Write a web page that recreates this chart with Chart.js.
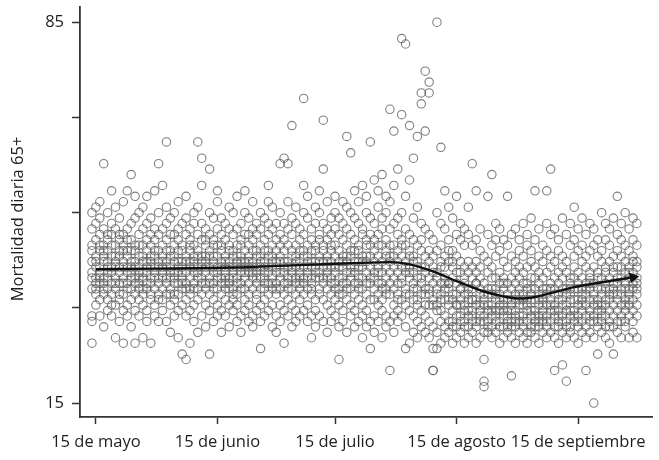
<!DOCTYPE html>
<html>
<head>
<meta charset="utf-8">
<script src="https://cdn.jsdelivr.net/npm/chart.js@4/dist/chart.umd.min.js"></script>
<style>
  body { margin: 0; background: #fff; }
  #wrap { width: 659px; height: 460px; }
</style>
</head>
<body>
<div id="wrap"><canvas id="mortalityChart" width="659" height="460"></canvas></div>
<script>
// daily deaths 65+, one string per day, several summers stacked on the same date
const mayo = [ // 14-31 May
  "26 30 31 36 39 41 44 47 50 38 43",
  "33 35 38 40 42 45 48 51 37 41 36",
  "31 34 37 39 40 43 46 49 52 44 38",
  "59 29 35 38 41 42 44 47 36 37 43",
  "32 36 38 40 41 43 45 50 34 39 46",
  "54 31 33 37 39 42 46 48 40 44 35",
  "27 33 36 38 40 41 44 47 51 42 37",
  "30 34 37 39 42 43 45 49 35 40 46",
  "26 32 35 38 40 41 44 46 52 37 43",
  "54 31 36 37 39 42 43 47 33 40 45",
  "57 29 34 36 40 41 45 48 38 43 39",
  "26 53 32 35 38 40 43 44 49 37 41",
  "31 34 36 39 40 42 46 50 37 44 38",
  "27 33 35 38 41 42 44 47 51 39 36",
  "30 32 36 39 40 43 45 48 53 37 41",
  "26 34 37 38 40 41 44 49 35 42 46",
  "54 31 33 36 39 42 45 47 40 38 43",
  "59 30 35 37 40 41 43 46 50 38 34"
];
const junio = [
  "32 34 38 39 42 44 47 55 36 41 40",
  "63 30 35 37 40 41 45 48 51 38 43",
  "28 33 36 39 40 43 46 49 38 42 35",
  "31 34 37 38 41 42 44 50 35 39 46",
  "27 32 35 39 40 43 45 47 52 37 41",
  "24 33 36 38 40 41 44 48 37 43 39",
  "53 23 31 34 37 39 42 46 49 41 36",
  "26 32 35 38 40 43 45 47 36 41 44",
  "30 33 37 39 41 42 44 50 48 36 40",
  "28 63 34 36 39 40 43 46 51 38 42",
  "60 55 31 35 38 41 42 45 48 37 40",
  "29 33 36 37 40 42 44 47 39 41 45",
  "24 58 32 35 38 40 43 46 50 37 42",
  "30 34 37 39 41 42 45 49 36 40 44",
  "54 31 33 36 38 40 44 47 52 39 42",
  "28 32 35 38 40 41 43 46 49 37 44",
  "31 34 36 39 40 42 45 48 37 41 38",
  "29 33 37 38 41 43 44 47 51 36 40",
  "32 35 36 39 40 42 46 50 34 38 43",
  "30 33 35 38 40 41 44 47 53 37 42",
  "28 31 36 37 39 42 45 48 40 41 44",
  "54 32 34 38 40 41 43 46 50 36 39",
  "30 33 35 39 40 42 44 49 37 41 46",
  "29 31 36 38 41 43 45 47 52 39 40",
  "32 34 37 39 40 42 46 48 35 43 38",
  "25 30 33 38 40 41 44 47 50 36 42",
  "31 34 36 39 41 43 45 49 38 40 37",
  "55 52 32 35 37 40 42 46 48 39 43",
  "29 33 36 38 40 41 44 47 51 37 42",
  "28 31 35 39 40 43 45 48 37 41 36"
];
const julio = [
  "59 30 33 36 38 41 42 46 50 39 44",
  "26 60 32 35 39 40 43 45 48 37 41",
  "59 31 34 37 38 41 44 47 52 40 36",
  "66 29 33 36 39 40 42 46 49 38 43",
  "30 32 35 38 40 41 44 48 51 37 42",
  "31 34 37 39 41 43 45 47 36 40 38",
  "71 55 32 35 38 40 42 46 50 37 43",
  "30 33 36 39 41 42 44 49 53 38 40",
  "27 31 35 37 40 41 45 47 38 43 36",
  "29 32 34 38 40 43 44 48 51 39 41",
  "54 31 35 36 39 42 45 46 50 38 41",
  "67 58 30 34 38 40 41 44 48 37 43",
  "28 33 36 39 40 42 45 47 52 38 41",
  "30 32 35 38 41 43 46 49 37 40 44",
  "53 31 34 37 39 40 44 47 50 42 36",
  "23 29 33 36 40 41 43 46 49 38 35",
  "30 32 35 38 40 42 45 48 52 37 41",
  "64 28 34 37 39 41 44 47 51 36 42",
  "61 31 33 36 38 42 43 46 50 40 39",
  "29 32 35 39 40 41 45 49 54 37 43",
  "30 34 37 38 41 43 44 48 52 36 40",
  "27 31 33 36 40 42 46 47 55 38 41",
  "29 32 35 39 41 44 45 50 53 37 42",
  "25 63 30 34 37 40 42 46 49 38 44",
  "28 31 36 38 41 43 45 48 56 34 39",
  "30 33 35 39 40 42 46 51 54 37 44",
  "27 32 34 37 41 44 47 49 57 39 36",
  "29 31 36 38 40 43 45 50 53 35 42",
  "21 69 30 35 39 41 42 47 52 37 44",
  "65 28 33 36 38 40 44 48 55 42 31",
  "30 32 35 39 41 43 46 49 58 37 34"
];
const agosto = [
  "82 68 31 34 37 40 42 45 50 38 44",
  "81 25 29 33 36 39 41 44 47 53 40 35",
  "66 26 32 35 38 40 43 46 56 39 42",
  "28 31 34 37 39 42 45 49 60 36 41",
  "64 27 30 34 36 38 41 44 51 40 33",
  "72 70 29 32 35 38 40 43 48 37 45",
  "76 65 28 31 35 36 39 42 47 40 33",
  "74 72 27 30 33 36 38 41 46 43 35",
  "21 21 25 29 33 34 37 40 45 39 42",
  "85 25 28 32 33 36 39 43 50 38 35",
  "62 26 30 32 35 37 40 44 48 34 41",
  "54 27 29 31 34 37 38 42 47 40 36",
  "28 30 33 34 37 37 41 45 51 36 43",
  "26 29 32 34 35 38 40 43 49 30 41",
  "53 27 31 33 33 37 39 42 46 35 29",
  "48 28 30 31 34 36 36 41 45 39 33",
  "26 30 32 33 35 38 40 44 47 37 29",
  "51 27 29 32 35 36 39 41 46 31 34",
  "59 28 30 31 34 34 38 40 44 36 32",
  "54 26 29 33 34 37 37 41 45 30 39",
  "27 30 31 33 36 38 40 43 47 32 35",
  "18 19 23 28 31 34 35 37 42 30 33",
  "53 29 30 32 35 36 39 41 46 33 28",
  "57 27 29 31 33 35 38 40 44 32 36",
  "28 31 32 34 36 38 42 45 48 30 35",
  "26 29 30 33 35 37 39 43 47 32 34",
  "27 29 32 33 34 36 38 41 45 31 37",
  "53 28 30 31 34 35 37 40 44 32 29",
  "20 27 30 32 33 36 38 42 46 29 34",
  "26 29 31 32 35 37 39 41 47 34 30",
  "28 30 33 34 36 38 40 43 45 31 35"
];
const septiembre = [
  "27 29 31 33 35 37 39 42 48 30 34",
  "26 30 32 34 36 37 40 44 46 28 33",
  "28 29 31 32 35 38 41 43 49 34 36",
  "54 27 30 32 34 36 38 40 45 31 29",
  "26 29 31 33 35 37 39 42 47 30 34",
  "28 30 32 34 35 36 38 41 44 31 33",
  "54 27 29 31 33 36 39 43 48 35 30",
  "58 28 30 32 34 37 40 42 46 33 36",
  "21 27 31 33 35 36 38 41 47 29 32",
  "26 29 30 32 34 37 39 43 45 35 31",
  "22 28 31 33 34 38 40 42 49 30 36",
  "19 27 30 32 35 36 39 41 46 33 29",
  "28 29 31 34 35 37 38 44 48 32 36",
  "51 27 30 32 34 36 40 42 45 31 38",
  "26 29 31 33 36 37 39 43 47 30 34",
  "28 30 32 34 35 38 41 44 49 36 33",
  "21 27 31 33 36 37 40 42 46 29 35",
  "28 30 32 34 36 38 39 43 48 31 37",
  "15 27 31 33 35 37 40 44 47 34 30",
  "24 29 30 32 34 36 39 42 45 38 33",
  "28 30 32 33 35 38 41 43 50 36 31",
  "27 29 31 34 36 37 40 45 48 33 39",
  "26 30 32 35 36 38 41 44 47 34 29",
  "24 29 31 33 35 37 39 42 49 36 40",
  "53 28 30 32 34 37 40 43 46 35 38",
  "27 31 33 35 36 38 42 45 48 30 40",
  "29 30 32 34 37 39 41 44 50 36 33",
  "27 31 33 35 36 38 40 43 47 34 39",
  "28 30 32 34 37 39 42 45 49 36 41",
  "27 31 33 36 38 40 41 44 48 35 37"
];
// day number (0 = 15 May) of the first entry of each month
const meses = [mayo, junio, julio, agosto, septiembre];
const inicioMes = [-1, 17, 47, 78, 109];

// smoothed trend
const suaveDias = [0, 15, 35, 50, 65, 75, 80, 86, 92, 99, 104, 108, 112, 116, 122, 130, 137];
const suaveValores = [39.6, 39.7, 39.9, 40.3, 40.7, 40.9, 40.5, 39.2, 37.4, 35.5, 34.6, 34.2, 34.5, 35.2, 36.3, 37.3, 38.1];

const marcasX = [0, 31, 61, 92, 123];
const etiquetasX = ["15 de mayo", "15 de junio", "15 de julio", "15 de agosto", "15 de septiembre"];
const marcasY = [15, 32.5, 50, 67.5, 85];
const etiquetasY = ["15", "", "", "", "85"];
const tituloY = "Mortalidad diaria 65+";

const puntos = [];
meses.forEach((mes, m) => {
  mes.forEach((fila, i) => {
    fila.split(" ").forEach((v) => {
      puntos.push({ x: inicioMes[m] + i, y: Number(v) });
    });
  });
});

const curva = suaveDias.map((d, i) => ({ x: d, y: suaveValores[i] }));
const ultimo = curva.length - 1;

const axisColor = "#333";
const textColor = "#1e1e1e";
const font = { family: "Open Sans", size: 16.5 };

// y title drawn by hand so it sits where the original has it
const yTitlePlugin = {
  id: "yTitle",
  afterDraw(chart) {
    const ctx = chart.ctx;
    ctx.save();
    ctx.translate(18, 219);
    ctx.rotate(-Math.PI / 2);
    ctx.font = "16.5px 'Open Sans'";
    ctx.fillStyle = textColor;
    ctx.textAlign = "center";
    ctx.textBaseline = "middle";
    ctx.fillText(tituloY, 0, 0);
    ctx.restore();
  },
};

new Chart(document.getElementById("mortalityChart"), {
  type: "scatter",
  data: {
    datasets: [
      {
        type: "line",
        data: curva,
        borderColor: "#111",
        borderWidth: 2.4,
        cubicInterpolationMode: "monotone",
        pointRadius: curva.map((p, i) => (i === ultimo ? 4 : 0)),
        pointStyle: "triangle",
        pointRotation: 80,
        pointBackgroundColor: "#111",
        pointBorderColor: "#111",
        order: 0,
      },
      {
        data: puntos,
        pointRadius: 4.2,
        pointBorderWidth: 1.1,
        pointBorderColor: "rgba(95,95,95,0.8)",
        pointBackgroundColor: "rgba(0,0,0,0)",
        order: 1,
      },
    ],
  },
  plugins: [yTitlePlugin],
  options: {
    responsive: false,
    animation: false,
    layout: { padding: { top: 7, right: 2, left: 0, bottom: 0 } },
    plugins: { legend: { display: false }, tooltip: { enabled: false } },
    scales: {
      x: {
        type: "linear",
        min: -4.05,
        max: 142,
        afterFit: (scale) => {
          scale.height = 43;
          scale.paddingLeft = 0;
          scale.paddingRight = 0;
        },
        afterBuildTicks: (scale) => { scale.ticks = marcasX.map((v) => ({ value: v })); },
        ticks: {
          autoSkip: false,
          maxRotation: 0,
          padding: 8,
          color: textColor,
          font: font,
          callback: (value, index) => etiquetasX[index],
        },
        grid: {
          drawOnChartArea: false,
          tickLength: 7,
          tickColor: axisColor,
          tickWidth: 1.5,
        },
        border: { color: axisColor, width: 1.8 },
      },
      y: {
        min: 12.43,
        max: 87.8,
        afterFit: (scale) => {
          scale.width = 80;
          scale.paddingTop = 0;
          scale.paddingBottom = 0;
        },
        afterBuildTicks: (scale) => { scale.ticks = marcasY.map((v) => ({ value: v })); },
        ticks: {
          padding: 8,
          color: textColor,
          font: font,
          callback: (value, index) => etiquetasY[index],
        },
        grid: {
          drawOnChartArea: false,
          tickLength: 8,
          tickColor: axisColor,
          tickWidth: 1.5,
        },
        border: { color: axisColor, width: 1.8 },
      },
    },
  },
});
</script>
</body>
</html>
